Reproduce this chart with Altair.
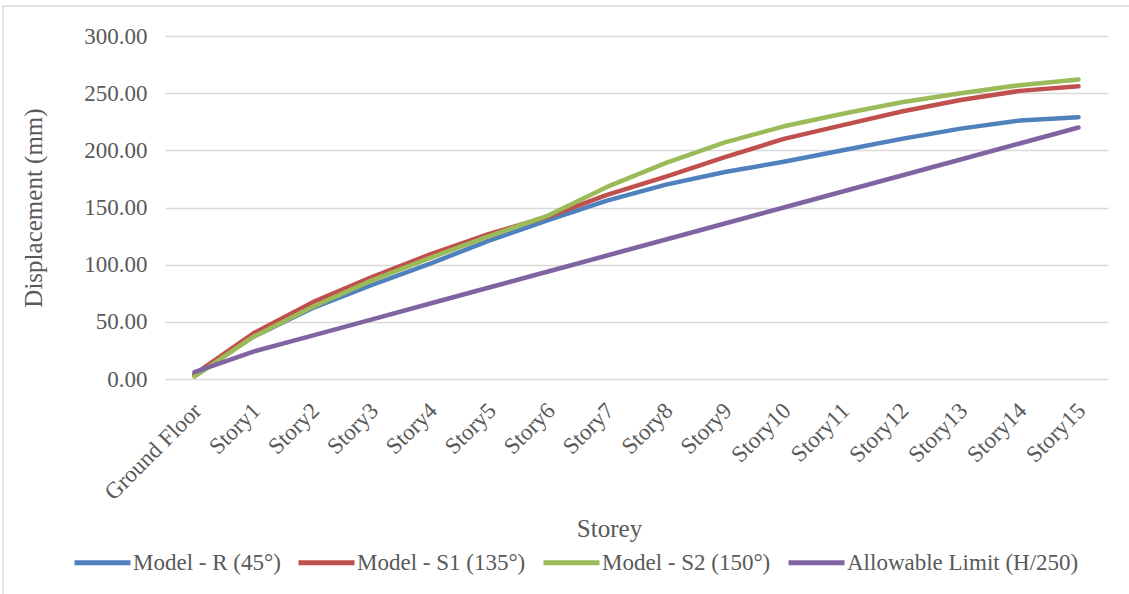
import altair as alt
import pandas as pd

# Storey labels along the x axis
storeys = ["Ground Floor"] + [f"Story{i}" for i in range(1, 16)]

# Lateral displacement (mm) per storey for each model
model_r = [3, 37, 62, 82, 101, 121, 139, 156, 170, 181, 190, 200, 210, 219, 226, 229]
model_s1 = [4, 40, 67, 89, 109, 127, 142, 161, 177, 194, 210, 222, 234, 244, 252, 256]
model_s2 = [2, 37, 63, 86, 106, 125, 143, 168, 189, 207, 221, 232, 242, 250, 257, 262]
allowable = [6, 24, 38, 52, 66, 80, 94, 108, 122, 136, 150, 164, 178, 192, 206, 220]

series_names = ["Model - R (45°)", "Model - S1 (135°)", "Model - S2 (150°)", "Allowable Limit (H/250)"]
series_colors = ["#4F81BD", "#C0504D", "#9BBB59", "#8064A2"]
series_values = [model_r, model_s1, model_s2, allowable]

rows = []
for name, vals in zip(series_names, series_values):
    for s, v in zip(storeys, vals):
        rows.append({"Storey": s, "Displacement": v, "Series": name})
df = pd.DataFrame(rows)

FONT = "Liberation Serif"
GREY = "#595959"

lines = alt.Chart(df).mark_line(strokeWidth=4.5, strokeCap="round", strokeJoin="round").encode(
    x=alt.X("Storey:N", sort=storeys,
            scale=alt.Scale(type="point", padding=0.5),
            axis=alt.Axis(title="Storey", labelAngle=-45, labelAlign="right", labelBaseline="top",
                          labelPadding=20, labelOffset=-5, ticks=False, domain=False, grid=False,
                          labelFont=FONT, labelFontSize=23, labelColor=GREY,
                          titleFont=FONT, titleFontSize=25, titleFontWeight="normal", titleColor=GREY,
                          titleX=444, titleY=149, titleAlign="center", titleBaseline="middle")),
    y=alt.Y("Displacement:Q",
            scale=alt.Scale(domain=[0, 300], nice=False),
            axis=alt.Axis(title="Displacement (mm)", values=[0, 50, 100, 150, 200, 250, 300], format=".2f",
                          ticks=False, domain=False, grid=True, gridColor="#D9D9D9", gridWidth=1.5,
                          labelPadding=18, labelFont=FONT, labelFontSize=23, labelColor=GREY,
                          titleFont=FONT, titleFontSize=25, titleFontWeight="normal", titleColor=GREY,
                          titleX=-132, titleY=171.5, titleAngle=-90, titleAlign="center", titleBaseline="middle")),
    color=alt.Color("Series:N", sort=series_names,
                    scale=alt.Scale(domain=series_names, range=series_colors),
                    legend=alt.Legend(title=None, orient="none", direction="horizontal",
                                      legendX=-93, legendY=496, symbolType="stroke",
                                      symbolSize=3136, symbolStrokeWidth=5, labelOffset=0,
                                      columnPadding=7, padding=0, labelLimit=400,
                                      labelFont=FONT, labelFontSize=23, labelColor=GREY)),
)

# Thin chart-area frame along the top and left edges
frame_top = alt.Chart(alt.Data(values=[{}])).mark_rule(color="#D9D9D9", strokeWidth=1.5).encode(
    x=alt.value(-162), x2=alt.value(964), y=alt.value(-30)
)
frame_left = alt.Chart(alt.Data(values=[{}])).mark_rule(color="#D9D9D9", strokeWidth=1.5).encode(
    x=alt.value(-162), y=alt.value(-30), y2=alt.value(560)
)

chart = alt.layer(frame_top, frame_left, lines).properties(
    width=943, height=343,
    autosize=alt.AutoSizeParams(type="none"),
    padding={"left": 165, "top": 36, "right": 21, "bottom": 215},
    background="white",
).configure_view(stroke=None)

chart.save("out.html", embed_options={"renderer": "svg", "actions": False})
